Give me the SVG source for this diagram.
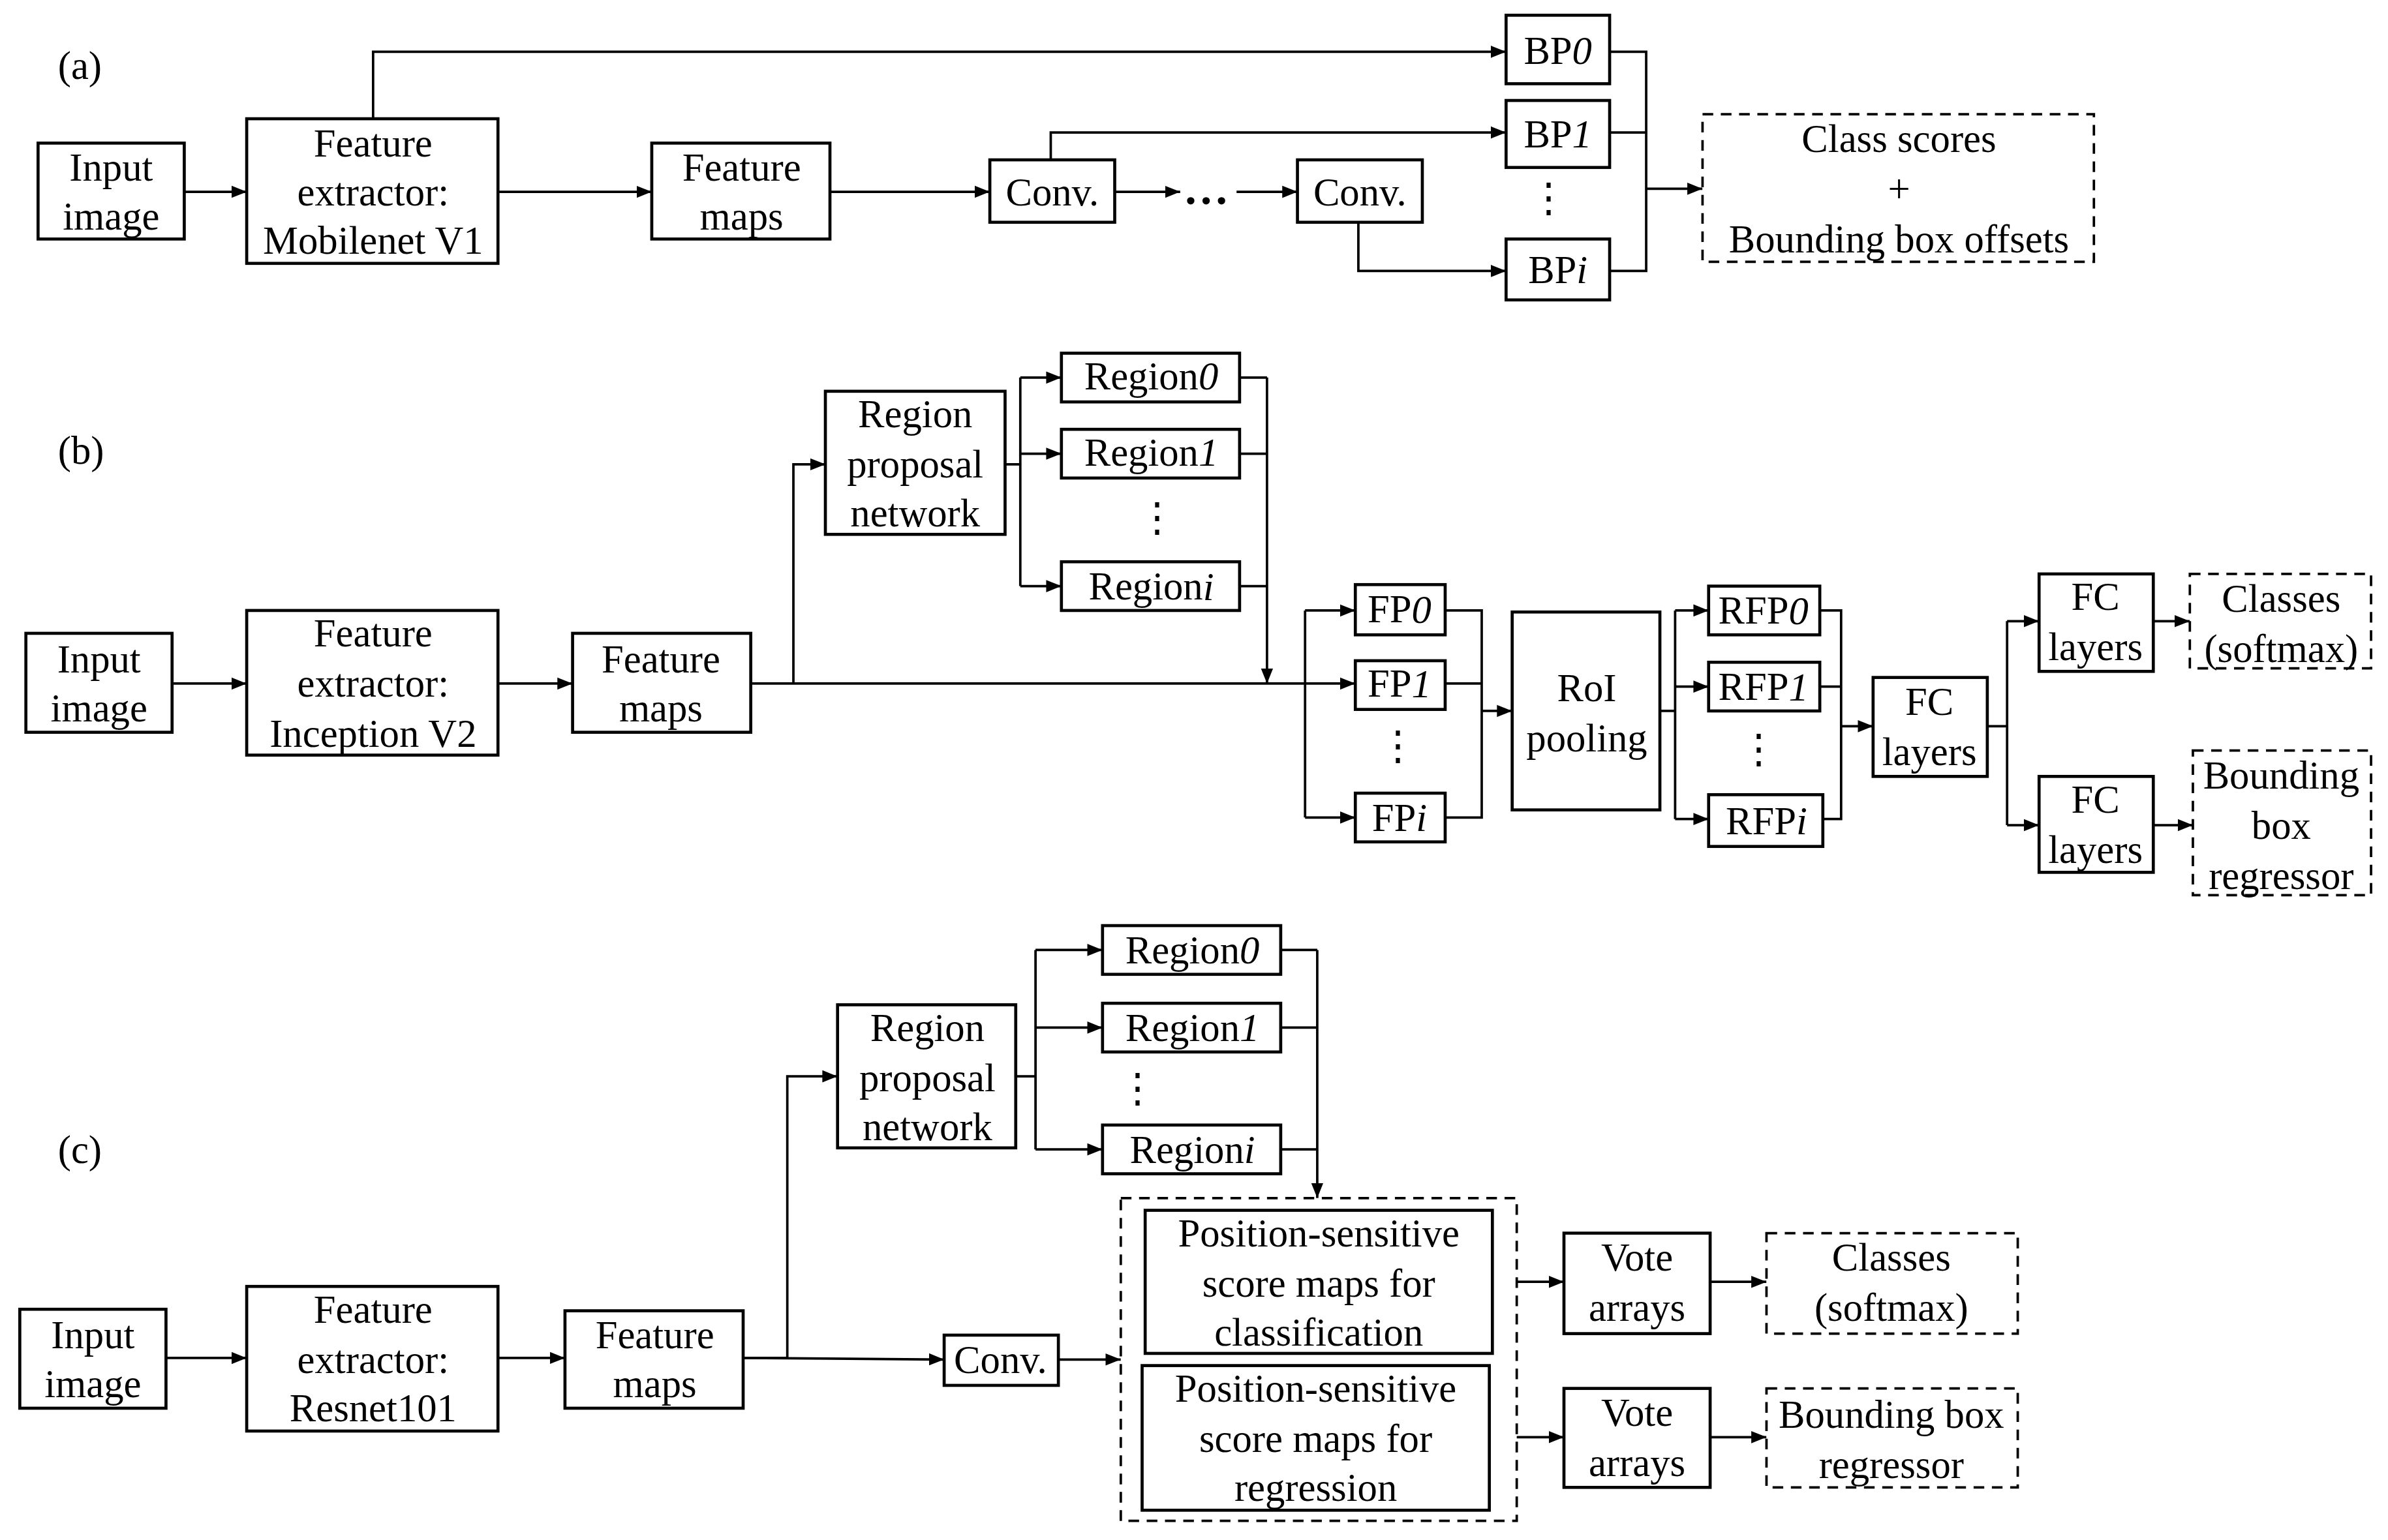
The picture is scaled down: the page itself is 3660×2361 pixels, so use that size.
<svg xmlns="http://www.w3.org/2000/svg" width="3660" height="2361" viewBox="0 0 3660 2361">
<style>
.b{fill:#fff;stroke:#000;stroke-width:2}
.d{fill:#fff;stroke:#000;stroke-width:1.6;stroke-dasharray:7 5}
.l{fill:none;stroke:#000;stroke-width:1.6}
text{font-family:"Liberation Serif","Times New Roman",serif;font-size:26px;text-anchor:middle;dominant-baseline:central;fill:#000}
.lb{text-anchor:start}
</style>
<defs>
<marker id="a" markerUnits="userSpaceOnUse" markerWidth="10" markerHeight="10" viewBox="0 0 10 10" refX="10" refY="5" orient="auto"><path d="M0,1 L10,5 L0,9 Z" fill="#000"/></marker>
</defs>
<rect width="3660" height="2361" fill="#fff"/>
<g transform="scale(2.334)">
<text class="lb" x="38" y="43">(a)</text>
<text class="lb" x="38" y="296">(b)</text>
<text class="lb" x="38" y="755">(c)</text>

<g id="connectors">
<!-- a -->
<path class="l" marker-end="url(#a)" d="M121,126 H162"/>
<path class="l" marker-end="url(#a)" d="M327,126 H428"/>
<path class="l" marker-end="url(#a)" d="M545,126 H650"/>
<path class="l" marker-end="url(#a)" d="M732,126 H775"/>
<path class="l" marker-end="url(#a)" d="M812,126 H852"/>
<path class="l" marker-end="url(#a)" d="M245,78 V34 H989"/>
<path class="l" marker-end="url(#a)" d="M690,105 V87 H989"/>
<path class="l" marker-end="url(#a)" d="M892,146 V178 H989"/>
<path class="l" d="M1057,34 H1081 V178 H1057 M1057,87 H1081"/>
<path class="l" marker-end="url(#a)" d="M1081,124 H1118"/>
<!-- b -->
<path class="l" marker-end="url(#a)" d="M113,449 H162"/>
<path class="l" marker-end="url(#a)" d="M327,449 H376"/>
<path class="l" d="M493,449 H857"/>
<path class="l" marker-end="url(#a)" d="M521,449 V305 H542"/>
<path class="l" d="M660,305 H670 M670,248 V385"/>
<path class="l" marker-end="url(#a)" d="M670,248 H697"/>
<path class="l" marker-end="url(#a)" d="M670,298 H697"/>
<path class="l" marker-end="url(#a)" d="M670,385 H697"/>
<path class="l" d="M814,248 H832 M814,298 H832 M814,385 H832"/>
<path class="l" marker-end="url(#a)" d="M832,248 V449"/>
<path class="l" d="M857,401 V537"/>
<path class="l" marker-end="url(#a)" d="M857,401 H890"/>
<path class="l" marker-end="url(#a)" d="M857,449 H890"/>
<path class="l" marker-end="url(#a)" d="M857,537 H890"/>
<path class="l" d="M949,401 H973 V537 H949 M949,449 H973"/>
<path class="l" marker-end="url(#a)" d="M973,467 H993"/>
<path class="l" d="M1090,467 H1100 M1100,401 V538"/>
<path class="l" marker-end="url(#a)" d="M1100,401 H1122"/>
<path class="l" marker-end="url(#a)" d="M1100,451 H1122"/>
<path class="l" marker-end="url(#a)" d="M1100,538 H1122"/>
<path class="l" d="M1195,401 H1209 V538 H1197 M1195,451 H1209"/>
<path class="l" marker-end="url(#a)" d="M1209,477 H1230"/>
<path class="l" d="M1305,477 H1318 M1318,408 V542"/>
<path class="l" marker-end="url(#a)" d="M1318,408 H1339"/>
<path class="l" marker-end="url(#a)" d="M1318,542 H1339"/>
<path class="l" marker-end="url(#a)" d="M1414,408 H1438"/>
<path class="l" marker-end="url(#a)" d="M1414,542 H1440"/>
<!-- c -->
<path class="l" marker-end="url(#a)" d="M109,892 H162"/>
<path class="l" marker-end="url(#a)" d="M327,892 H371"/>
<path class="l" marker-end="url(#a)" d="M488,892 H517 V707 H550"/>
<path class="l" marker-end="url(#a)" d="M488,892 L620,893"/>
<path class="l" d="M667,707 H680 M680,624 V755"/>
<path class="l" marker-end="url(#a)" d="M680,624 H724"/>
<path class="l" marker-end="url(#a)" d="M680,675 H724"/>
<path class="l" marker-end="url(#a)" d="M680,755 H724"/>
<path class="l" d="M841,624 H865 M841,675 H865 M841,755 H865"/>
<path class="l" marker-end="url(#a)" d="M865,624 V787"/>
<path class="l" marker-end="url(#a)" d="M695,893 H736"/>
<path class="l" marker-end="url(#a)" d="M980,842 H1027"/>
<path class="l" marker-end="url(#a)" d="M978,944 H1027"/>
<path class="l" marker-end="url(#a)" d="M1123,842 H1160"/>
<path class="l" marker-end="url(#a)" d="M1123,944 H1160"/>
</g>

<!-- (a) nodes -->
<g id="a-input"><rect class="b" x="25" y="94" width="96" height="63"/><text x="73" y="110">Input</text><text x="73" y="142">image</text></g>
<g id="a-fe"><rect class="b" x="162" y="78" width="165" height="95"/><text x="245" y="94">Feature</text><text x="245" y="126">extractor:</text><text x="245" y="158">Mobilenet V1</text></g>
<g id="a-fm"><rect class="b" x="428" y="94" width="117" height="63"/><text x="487" y="110">Feature</text><text x="487" y="142">maps</text></g>
<g id="a-conv1"><rect class="b" x="650" y="105" width="82" height="41"/><text x="691" y="126">Conv.</text></g>
<text x="792" y="124" style="font-size:30px;font-weight:bold">…</text>
<g id="a-conv2"><rect class="b" x="852" y="105" width="82" height="41"/><text x="893" y="126">Conv.</text></g>
<g id="bp0"><rect class="b" x="989" y="10" width="68" height="45"/><text x="1023" y="33">BP<tspan font-style="italic">0</tspan></text></g>
<g id="bp1"><rect class="b" x="989" y="66" width="68" height="44"/><text x="1023" y="88">BP<tspan font-style="italic">1</tspan></text></g>
<text x="1017" y="130">⋮</text>
<g id="bpi"><rect class="b" x="989" y="157" width="68" height="40"/><text x="1023" y="177">BP<tspan font-style="italic">i</tspan></text></g>
<g id="a-out"><rect class="d" x="1118" y="75" width="257" height="97"/><text x="1247" y="91">Class scores</text><text x="1247" y="124">+</text><text x="1247" y="157">Bounding box offsets</text></g>

<!-- (b) nodes -->
<g id="b-input"><rect class="b" x="17" y="416" width="96" height="65"/><text x="65" y="433">Input</text><text x="65" y="465">image</text></g>
<g id="b-fe"><rect class="b" x="162" y="401" width="165" height="95"/><text x="245" y="416">Feature</text><text x="245" y="449">extractor:</text><text x="245" y="482">Inception V2</text></g>
<g id="b-fm"><rect class="b" x="376" y="416" width="117" height="65"/><text x="434" y="433">Feature</text><text x="434" y="465">maps</text></g>
<g id="b-rpn"><rect class="b" x="542" y="257" width="118" height="94"/><text x="601" y="272">Region</text><text x="601" y="305">proposal</text><text x="601" y="337">network</text></g>
<g id="b-r0"><rect class="b" x="697" y="232" width="117" height="32"/><text x="756" y="247">Region<tspan font-style="italic">0</tspan></text></g>
<g id="b-r1"><rect class="b" x="697" y="282" width="117" height="32"/><text x="756" y="297">Region<tspan font-style="italic">1</tspan></text></g>
<text x="760" y="340">⋮</text>
<g id="b-ri"><rect class="b" x="697" y="369" width="117" height="32"/><text x="756" y="385">Region<tspan font-style="italic">i</tspan></text></g>
<g id="fp0"><rect class="b" x="890" y="384" width="59" height="33"/><text x="919" y="400">FP<tspan font-style="italic">0</tspan></text></g>
<g id="fp1"><rect class="b" x="890" y="434" width="59" height="32"/><text x="919" y="449">FP<tspan font-style="italic">1</tspan></text></g>
<text x="918" y="490">⋮</text>
<g id="fpi"><rect class="b" x="890" y="521" width="59" height="32"/><text x="919" y="537">FP<tspan font-style="italic">i</tspan></text></g>
<g id="roi"><rect class="b" x="993" y="402" width="97" height="130"/><text x="1042" y="452">RoI</text><text x="1042" y="485">pooling</text></g>
<g id="rfp0"><rect class="b" x="1122" y="385" width="73" height="32"/><text x="1158" y="401">RFP<tspan font-style="italic">0</tspan></text></g>
<g id="rfp1"><rect class="b" x="1122" y="435" width="73" height="32"/><text x="1158" y="451">RFP<tspan font-style="italic">1</tspan></text></g>
<text x="1155" y="492">⋮</text>
<g id="rfpi"><rect class="b" x="1122" y="522" width="75" height="34"/><text x="1160" y="539">RFP<tspan font-style="italic">i</tspan></text></g>
<g id="b-fc"><rect class="b" x="1230" y="445" width="75" height="65"/><text x="1267" y="461">FC</text><text x="1267" y="494">layers</text></g>
<g id="b-fc1"><rect class="b" x="1339" y="377" width="75" height="64"/><text x="1376" y="392">FC</text><text x="1376" y="425">layers</text></g>
<g id="b-fc2"><rect class="b" x="1339" y="510" width="75" height="63"/><text x="1376" y="525">FC</text><text x="1376" y="558">layers</text></g>
<g id="b-cls"><rect class="d" x="1438" y="377" width="119" height="62"/><text x="1498" y="393">Classes</text><text x="1498" y="426">(softmax)</text></g>
<g id="b-reg"><rect class="d" x="1440" y="493" width="117" height="95"/><text x="1498" y="509">Bounding</text><text x="1498" y="542">box</text><text x="1498" y="575">regressor</text></g>

<!-- (c) nodes -->
<g id="c-input"><rect class="b" x="13" y="860" width="96" height="65"/><text x="61" y="877">Input</text><text x="61" y="909">image</text></g>
<g id="c-fe"><rect class="b" x="162" y="845" width="165" height="95"/><text x="245" y="860">Feature</text><text x="245" y="893">extractor:</text><text x="245" y="925">Resnet101</text></g>
<g id="c-fm"><rect class="b" x="371" y="861" width="117" height="64"/><text x="430" y="877">Feature</text><text x="430" y="909">maps</text></g>
<g id="c-rpn"><rect class="b" x="550" y="660" width="117" height="94"/><text x="609" y="675">Region</text><text x="609" y="708">proposal</text><text x="609" y="740">network</text></g>
<g id="c-r0"><rect class="b" x="724" y="608" width="117" height="32"/><text x="783" y="624">Region<tspan font-style="italic">0</tspan></text></g>
<g id="c-r1"><rect class="b" x="724" y="659" width="117" height="32"/><text x="783" y="675">Region<tspan font-style="italic">1</tspan></text></g>
<text x="747" y="715">⋮</text>
<g id="c-ri"><rect class="b" x="724" y="739" width="117" height="32"/><text x="783" y="755">Region<tspan font-style="italic">i</tspan></text></g>
<g id="c-conv"><rect class="b" x="620" y="877" width="75" height="33"/><text x="657" y="893">Conv.</text></g>
<g id="c-ps"><rect class="d" x="736" y="787" width="260" height="212"/>
<rect class="b" x="752" y="795" width="228" height="94"/><text x="866" y="810">Position-sensitive</text><text x="866" y="843">score maps for</text><text x="866" y="875">classification</text>
<rect class="b" x="750" y="897" width="228" height="95"/><text x="864" y="912">Position-sensitive</text><text x="864" y="945">score maps for</text><text x="864" y="977">regression</text></g>
<g id="c-v1"><rect class="b" x="1027" y="810" width="96" height="66"/><text x="1075" y="826">Vote</text><text x="1075" y="859">arrays</text></g>
<g id="c-v2"><rect class="b" x="1027" y="912" width="96" height="65"/><text x="1075" y="928">Vote</text><text x="1075" y="961">arrays</text></g>
<g id="c-cls"><rect class="d" x="1160" y="810" width="165" height="66"/><text x="1242" y="826">Classes</text><text x="1242" y="859">(softmax)</text></g>
<g id="c-reg"><rect class="d" x="1160" y="912" width="165" height="65"/><text x="1242" y="929">Bounding box</text><text x="1242" y="962">regressor</text></g>
</g>
</svg>
